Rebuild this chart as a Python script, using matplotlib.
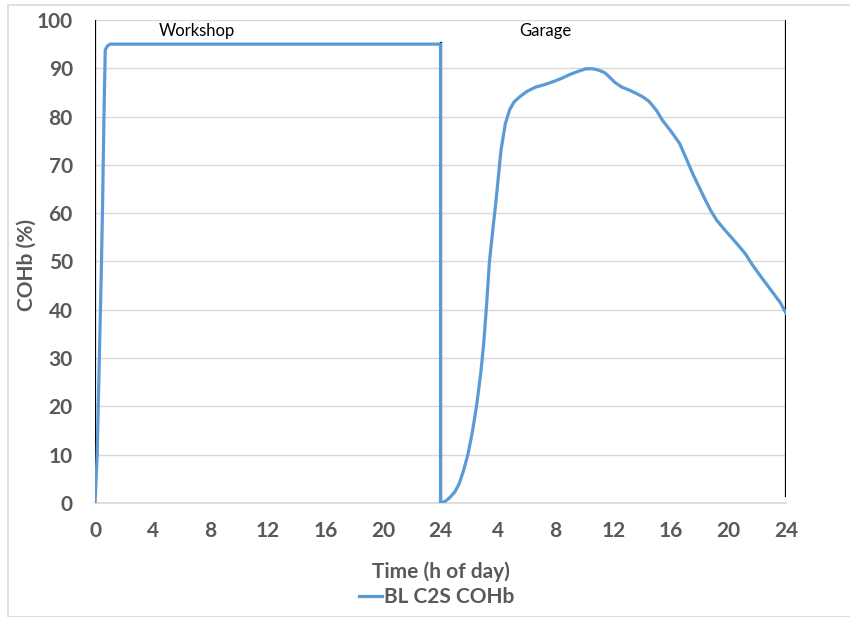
import matplotlib.pyplot as plt
from matplotlib.patches import Rectangle

# hours run 0-48 across two days: workshop (day 1) then garage (day 2)
workshop_t = [0, 0.15, 0.3, 0.45, 0.53, 0.62, 0.71, 0.85, 1.04, 24, 24]
workshop_cohb = [0, 10, 30, 50, 62.7, 80, 93.8, 94.6, 95, 95, 0]

garage_t = [24, 24.3, 24.6, 25.0, 25.3, 25.6, 25.9, 26.2, 26.5, 26.8, 27.0, 27.2,
            27.4, 27.65, 27.86, 28.2, 28.5, 28.8, 29.1, 29.5, 30.0, 30.6, 31.2,
            31.8, 32.4, 32.9, 33.5, 34.1, 34.6, 35.0, 35.4, 35.7, 36.1, 36.6,
            37.1, 37.6, 38.1, 38.5, 39.0, 39.4, 40.0, 40.6, 41.0, 41.5, 42.0,
            42.4, 42.8, 43.2, 43.7, 44.2, 44.7, 45.2, 45.6, 46.1, 46.6, 47.1,
            47.6, 48]
garage_cohb = [0, 0.3, 1, 2.3, 4, 6.7, 10, 14.5, 20, 27, 33, 41,
               50, 57, 62.7, 73, 78.5, 81.4, 83, 84.1, 85.2, 86.1, 86.6,
               87.2, 87.9, 88.6, 89.3, 89.9, 89.9, 89.6, 89.1, 88.3, 87.1, 86.1,
               85.5, 84.8, 84.0, 83.1, 81.3, 79.3, 77.0, 74.5, 71.8, 68.3, 65.2,
               62.7, 60.4, 58.5, 56.7, 55, 53.3, 51.5, 49.6, 47.5, 45.5, 43.5,
               41.5, 39.3]

tick_pos = list(range(0, 49, 4))
tick_labels = ["0", "4", "8", "12", "16", "20", "24", "4", "8", "12", "16", "20", "24"]
y_ticks = list(range(0, 101, 10))

# location boundaries (start, end of marker lines)
boundary_t = [0, 24, 48]
boundary_lo = [0, 0, 1.5]
boundary_hi = [100, 95.3, 100]

zone_names = ["Workshop", "Garage"]
zone_t = [7.1, 31.3]

plt.rcParams["font.family"] = ["Lato", "DejaVu Sans"]
grey = "#595959"
blue = "#5B9BD5"

fig = plt.figure(figsize=(8.5, 6.17), dpi=100)
ax = fig.add_axes([0.1118, 0.1848, 0.8129, 0.7828])

# chart area border
fig.patches.append(Rectangle((8 / 850, 0), 1.2, 1 - 5 / 617, transform=fig.transFigure,
                             fill=False, edgecolor="#d9d9d9", linewidth=1.2))

for t, lo, hi in zip(boundary_t, boundary_lo, boundary_hi):
    ax.plot([t, t], [lo, hi], color="black", linewidth=1.6, zorder=2)

line, = ax.plot(workshop_t, workshop_cohb, color=blue, linewidth=2.3, zorder=3,
                label="BL C2S COHb", solid_joinstyle="round")
ax.plot(garage_t, garage_cohb, color=blue, linewidth=2.3, zorder=3,
        solid_joinstyle="round")

for name, t in zip(zone_names, zone_t):
    ax.text(t, 97.7, name, ha="center", va="center", fontsize=12, color="black")

ax.set_xlim(0, 48)
ax.set_ylim(0, 100)
ax.set_xticks(tick_pos)
ax.set_xticklabels(tick_labels)
ax.set_xticks(range(0, 49, 12), minor=True)
ax.set_yticks(y_ticks)

for s in ["top", "right", "left"]:
    ax.spines[s].set_visible(False)
ax.spines["bottom"].set_color("#d9d9d9")
ax.spines["bottom"].set_linewidth(1.2)

ax.yaxis.grid(True, color="#d9d9d9", linewidth=1)
ax.set_axisbelow(True)
ax.tick_params(axis="x", which="major", length=0, pad=13, labelsize=15, labelcolor=grey)
ax.tick_params(axis="x", which="minor", direction="inout", length=10, width=1.2,
               color="#d9d9d9")
ax.tick_params(axis="y", length=0, pad=16, labelsize=15, labelcolor=grey)
for lbl in ax.get_xticklabels() + ax.get_yticklabels():
    lbl.set_fontweight("bold")

ax.set_xlabel("Time (h of day)", fontsize=15, fontweight="bold", color=grey)
ax.set_ylabel("COHb (%)", fontsize=15, fontweight="bold", color=grey)
ax.xaxis.set_label_coords(0.5, -69 / 483, transform=ax.transAxes)
ax.xaxis.label.set_va("center")
ax.yaxis.set_label_coords(-68 / 691, 0.493, transform=ax.transAxes)
ax.yaxis.label.set_va("center")

leg = fig.legend(handles=[line], loc="center", bbox_to_anchor=(437 / 850, 1 - 597 / 617),
                 frameon=False, handlelength=1.1, handletextpad=0.1,
                 prop={"size": 15, "weight": "bold"})
for txt in leg.get_texts():
    txt.set_color(grey)

fig.savefig("out.png", dpi=100)
